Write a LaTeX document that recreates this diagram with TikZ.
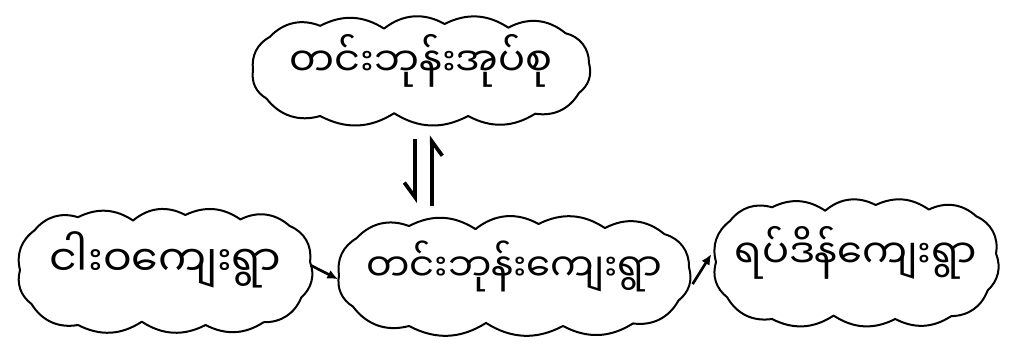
\documentclass[tikz,border=0pt]{standalone}
\usepackage{fontspec}
\newfontfamily\mya[Script=Myanmar]{Noto Sans Myanmar UI}
\usetikzlibrary{arrows.meta}
% cloud outline: centre x, centre y, half width, half height (in px units)
\newcommand\cloudoutline[4]{%
  \draw[cloudstroke]
    ({#1-1.00*#3},{#2+0.00*#4})
    to[bend left=34] ({#1-0.90*#3},{#2-0.72*#4})
    to[bend left=34] ({#1-0.60*#3},{#2-0.96*#4})
    to[bend left=30] ({#1-0.22*#3},{#2-0.90*#4})
    to[bend left=34] ({#1+0.14*#3},{#2-1.00*#4})
    to[bend left=30] ({#1+0.52*#3},{#2-0.92*#4})
    to[bend left=34] ({#1+0.86*#3},{#2-0.80*#4})
    to[bend left=38] ({#1+1.00*#3},{#2-0.15*#4})
    to[bend left=34] ({#1+0.94*#3},{#2+0.50*#4})
    to[bend left=34] ({#1+0.68*#3},{#2+0.95*#4})
    to[bend left=30] ({#1+0.28*#3},{#2+1.00*#4})
    to[bend left=30] ({#1-0.16*#3},{#2+0.94*#4})
    to[bend left=30] ({#1-0.60*#3},{#2+1.00*#4})
    to[bend left=34] ({#1-0.92*#3},{#2+0.62*#4})
    to[bend left=34] ({#1-1.00*#3},{#2+0.00*#4});
}
\begin{document}
\begin{tikzpicture}[x=0.75pt,y=-0.75pt,
  cloudstroke/.style={line width=1.5pt, line join=round, line cap=round},
  txt/.style={font=\mya\fontsize{#1pt}{#1pt}\selectfont, inner sep=0pt,
    text height=18pt, text depth=8pt},
  flow/.style={-{Latex[length=8pt,width=7pt]}, line width=2pt, shorten <=-8pt, shorten >=-7pt},
  harp/.style={-{Straight Barb[harpoon,swap,length=11pt,width=16pt]}, line width=2.8pt}]
\useasboundingbox (0,0) rectangle (1009,346);
\node[txt=30, minimum width=264pt, minimum height=82pt] (top) at (421,70) {တင်းဘုန်းအုပ်စု};
\node[txt=32, minimum width=232pt, minimum height=96pt] (a) at (165,270) {ငါးဝကျေးရွာ};
\node[txt=29, minimum width=276pt, minimum height=90pt] (b) at (514,275) {တင်းဘုန်းကျေးရွာ};
\node[txt=30, minimum width=224pt, minimum height=100pt] (c) at (856,262) {ရပ်ဒိန်ကျေးရွာ};
\cloudoutline{421}{70}{168}{46}
\cloudoutline{165}{270}{145}{55}
\cloudoutline{514}{275}{175}{51}
\cloudoutline{856}{262}{140}{57}
\coordinate (h1) at ([xshift=-4.5pt]top.center);
\coordinate (h2) at ([xshift=8pt]top.center);
\draw[harp, shorten <=52pt, shorten >=54pt] (h1) -- (h1 |- b.center);
\draw[harp, shorten <=52pt, shorten >=49pt] (h2 |- b.center) -- (h2);
\draw[flow] (a.east) -- (b.west);
\draw[flow] (b.east) -- (c.west);
\end{tikzpicture}
\end{document}
